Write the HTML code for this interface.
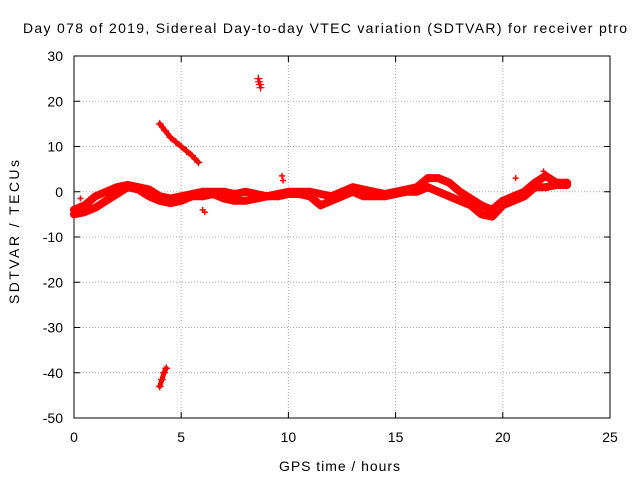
<!DOCTYPE html>
<html><head><meta charset="utf-8"><style>
body{margin:0;background:#fff}
svg text{font-family:"Liberation Sans",sans-serif;font-size:13px;fill:#000}
</style></head><body>
<svg width="640" height="480" xmlns="http://www.w3.org/2000/svg">
<rect width="640" height="480" fill="#fff"/>
<g id="grid"></g>
<g id="axes"></g>
<g id="series"></g>
<text x="23" y="33" textLength="604" lengthAdjust="spacing" style="font-size:14px">Day 078 of 2019, Sidereal Day-to-day VTEC variation (SDTVAR) for receiver ptro</text>
<text x="279" y="471" textLength="121" lengthAdjust="spacing" style="font-size:14px">GPS time / hours</text>
<text x="0" y="0" textLength="144" lengthAdjust="spacing" style="font-size:14px" transform="translate(19 304) rotate(-90)">SDTVAR / TECUs</text>
</svg>
<script>
const xTicks=[0,5,10,15,20,25];
const yTicks=[30,20,10,0,-10,-20,-30,-40,-50];
const trackUpperT=[0,0.5,1,1.5,2,2.5,3,3.5,4,4.5,5,5.5,6,6.5,7,7.5,8,8.5,9,9.5,10,10.5,11,11.5,12,12.5,13,13.5,14,14.5,15,15.5,16,16.5,17,17.5,18,18.5,19,19.5,20,20.5,21,21.5,22,22.5,23];
const trackUpperV=[-4,-3,-1,0,1,1.5,1,0.5,-1,-1.5,-1,-0.5,0,0,0,-0.5,0,-0.5,-1,-0.5,0,0,0,-0.5,-1,0,1,0.5,0,-0.5,0,0.5,1,3,3,2,0,-1.5,-3,-4,-2,-1,0,2,3.5,2,2];
const trackLowerT=trackUpperT;
const trackLowerV=[-5,-4.5,-3.5,-2,-0.5,1,0.5,-1,-2,-2.5,-2,-1,-1,-0.5,-1.5,-2,-2,-1.5,-1,-1,-0.5,-0.5,-1,-3,-2,-1,0,-1,-1,-1,-0.5,0,0,1,0,-1,-2,-3,-5,-5.5,-3,-2,-1,1,1,1.5,1.5];
const descT=[4.0,4.25,4.5,4.75,5,5.25,5.5,5.8];
const descV=[15,13.5,12,11,10,9,8,6.5];
const lowT=[4.0,4.1,4.2,4.3];
const lowV=[-43,-41.5,-40,-39];
const highT=[8.6,8.63,8.67,8.7];
const highV=[25,24.3,23.7,23];
const spikeT=[6.0,6.1,9.7,9.75,0.3,20.6,21.9];
const spikeV=[-4,-4.5,3.5,2.5,-1.5,3,4.5];

const X=t=>74+t*(536/25);
const Y=v=>56+(30-v)*(362/80);
const NS="http://www.w3.org/2000/svg";
function mk(tag,attrs,parent){const e=document.createElementNS(NS,tag);for(const k in attrs)e.setAttribute(k,attrs[k]);parent.appendChild(e);return e;}
const grid=document.getElementById('grid'),axes=document.getElementById('axes'),ser=document.getElementById('series');
xTicks.forEach(t=>{
  if(t>0&&t<25){const l=mk('line',{x1:X(t),x2:X(t),y1:56,y2:418,stroke:'#aaa','stroke-dasharray':'1,2'},grid);
  
  }
  mk('line',{x1:X(t),x2:X(t),y1:418,y2:412,stroke:'#000'},axes);
  mk('line',{x1:X(t),x2:X(t),y1:56,y2:62,stroke:'#000'},axes);
  const tx=mk('text',{x:X(t),y:442,'text-anchor':'middle',style:'font-size:14px'},axes);tx.textContent=t;
  
  
});
yTicks.forEach(v=>{
  if(v<30&&v>-50){const l=mk('line',{x1:74,x2:610,y1:Y(v),y2:Y(v),stroke:'#aaa','stroke-dasharray':'1,2'},grid);
  
  }
  mk('line',{x1:74,x2:80,y1:Y(v),y2:Y(v),stroke:'#000'},axes);
  mk('line',{x1:604,x2:610,y1:Y(v),y2:Y(v),stroke:'#000'},axes);
  const tx=mk('text',{x:63,y:Y(v)+5,'text-anchor':'end',style:'font-size:14px'},axes);tx.textContent=v;
  
  
});
mk('rect',{x:74,y:56,width:536,height:362,fill:'none',stroke:'#000'},axes);
function track(ts,vs,w,name){
  const p=mk('polyline',{points:ts.map((t,i)=>X(t)+','+Y(vs[i])).join(' '),fill:'none',stroke:'#f00','stroke-width':w,'stroke-linejoin':'round','stroke-linecap':'round'},ser);
  
  
  ts.forEach((t,i)=>{const x=X(t),y=Y(vs[i]);
    mk('path',{d:`M${x-4},${y}H${x+4}M${x},${y-4}V${y+4}`,stroke:'#f00','stroke-width':1.2},ser);});
}
track(trackUpperT,trackUpperV,8,'track-upper');
track(trackLowerT,trackLowerV,8,'track-lower');
track(descT,descV,5,'track-descending');
track(lowT,lowV,5,'track-low-outlier');
track(highT,highV,3,'track-high-outlier');
spikeT.forEach((t,i)=>{const x=X(t),y=Y(spikeV[i]);
  const p=mk('path',{d:`M${x-3},${y}H${x+3}M${x},${y-3}V${y+3}`,stroke:'#f00','stroke-width':1.5},ser);
  
  });
</script>
</body></html>
